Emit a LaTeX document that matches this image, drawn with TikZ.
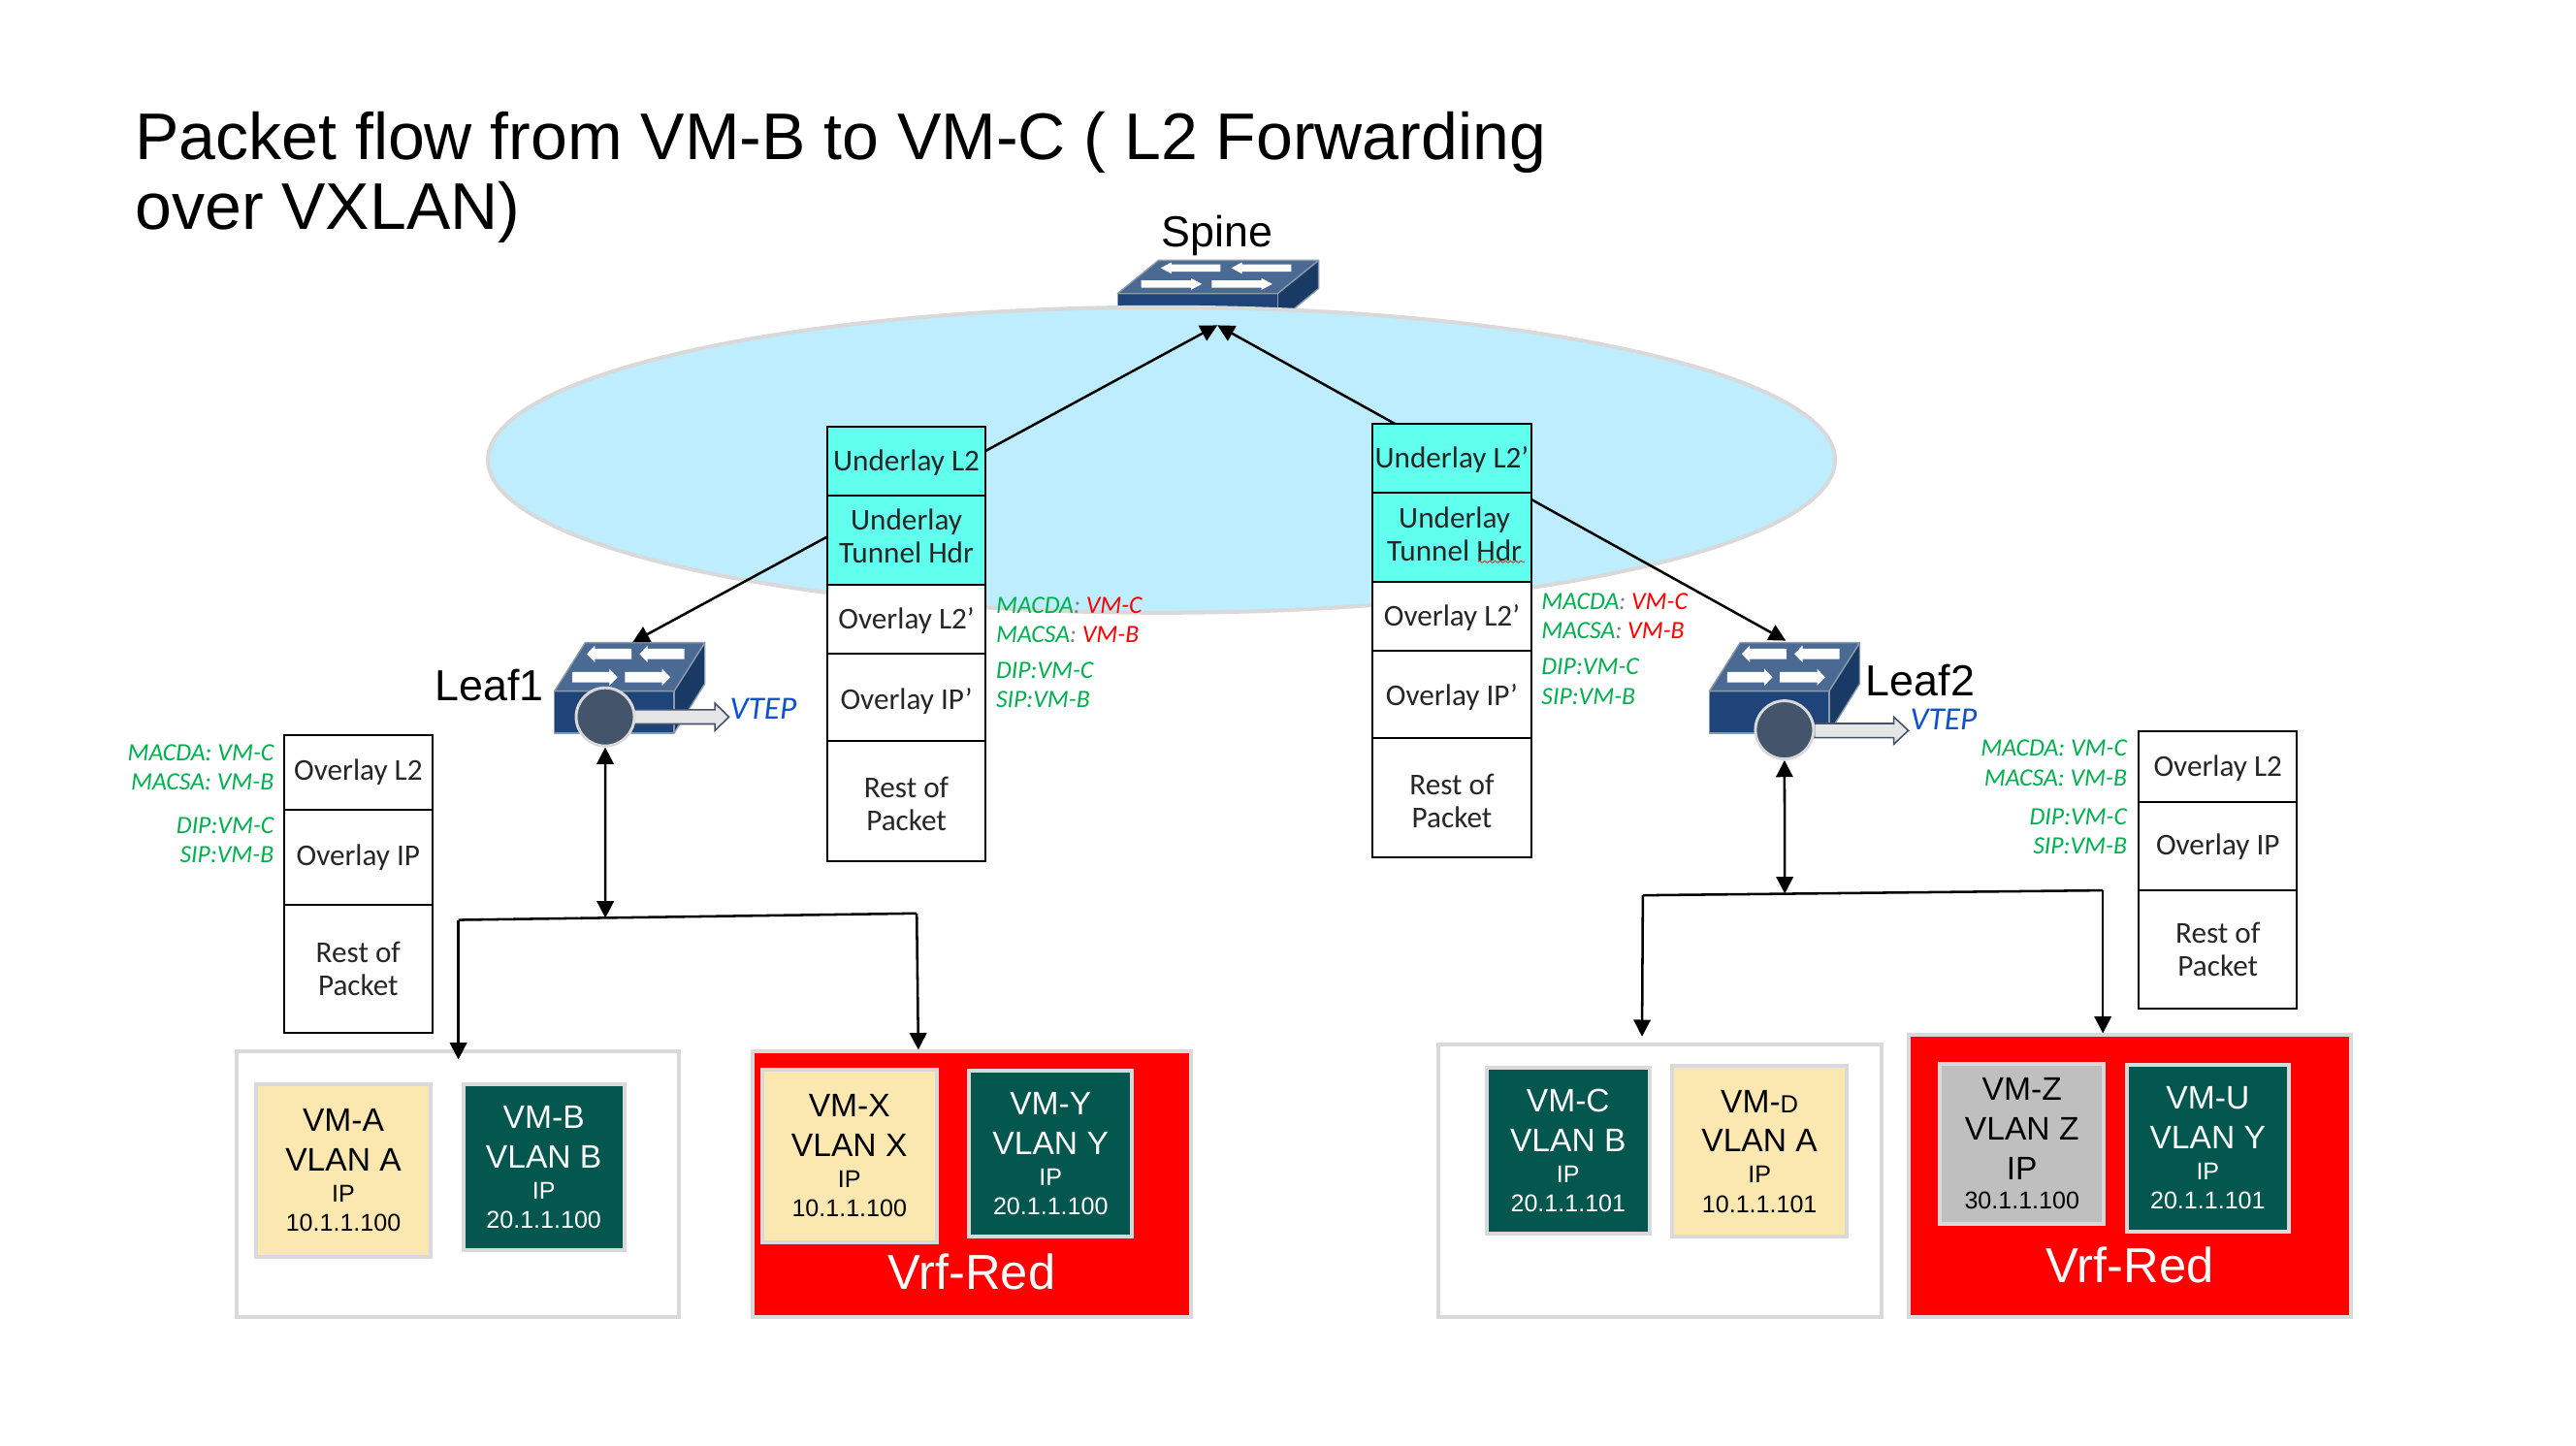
\documentclass[tikz,border=0pt]{standalone}
\usepackage{fontspec}
\setmainfont{Liberation Sans}
\newfontfamily\carl{Carlito}
\usetikzlibrary{arrows.meta,decorations.pathmorphing,shapes.geometric}
\definecolor{swtop}{HTML}{4A6A94}
\definecolor{swfront}{HTML}{1F4479}
\definecolor{swside}{HTML}{1A3A66}
\definecolor{swedge}{HTML}{8C9AAB}
\definecolor{cloud}{HTML}{BDEDFF}
\definecolor{lgrey}{HTML}{D9D9D9}
\definecolor{cyanbox}{HTML}{61FFEE}
\definecolor{sand}{HTML}{FBE8B0}
\definecolor{teal}{HTML}{04574F}
\definecolor{vmgrey}{HTML}{BFBFBF}
\definecolor{slate}{HTML}{44546A}
\definecolor{arrowfill}{HTML}{E7E6E6}
\definecolor{grn}{HTML}{00B050}
\definecolor{vblue}{HTML}{0F52CC}
\def\du{0.6353pt}
\tikzset{
  cellbox/.style={draw=black,line width=0.75pt,fill=white,inner sep=0pt,outer sep=0pt},
  hdrbox/.style={cellbox,fill=cyanbox},
  celltext/.style={align=center,inner sep=0pt,outer sep=0pt,text=black!85,font=\carl\fontsize{11.7}{12.7}\selectfont},
  link/.style={line width=0.95pt,draw=black},
  tip/.style={{Triangle[length=6.5pt,width=6.5pt]}-{Triangle[length=6.5pt,width=6.5pt]}},
  tipend/.style={-{Triangle[length=6.5pt,width=6.5pt]}},
  region/.style={draw=lgrey,line width=1.5pt,fill=white,inner sep=0pt},
  redregion/.style={region,fill=red},
  vmbox/.style={draw=lgrey,line width=1.5pt,align=center,inner sep=0pt},
  sandvm/.style={vmbox,fill=sand,text=black},
  tealvm/.style={vmbox,fill=teal,text=white},
  greyvm/.style={vmbox,fill=vmgrey,text=black},
  info/.style={inner sep=0pt,font=\carl\itshape\fontsize{9.65}{11}\selectfont,text=grn},
  infoL/.style={info,anchor=base west},
  infoR/.style={info,anchor=base east},
  swlabel/.style={inner sep=0pt,font=\fontsize{16.8}{19}\selectfont},
  vteplabel/.style={inner sep=0pt,anchor=base west,text=vblue,font=\carl\itshape\fontsize{12.5}{14}\selectfont},
  vrflabel/.style={inner sep=0pt,anchor=base,text=white,font=\fontsize{19}{21}\selectfont},
  vtepdot/.style={circle,fill=slate,draw=lgrey,line width=1.1pt,minimum size=35.4*\du,inner sep=0pt,outer sep=0.5pt},
  blockarrow/.style={fill=arrowfill,draw=slate,line width=0.6pt,line join=miter},
}
% \boxnode[style]{name}{x1}{y1}{x2}{y2}{text}
\newcommand{\boxnode}[7][]{%
  \node[#1,minimum width={(#5-#3)*0.6353pt},minimum height={(#6-#4)*0.6353pt}] (#2) at ({(#3+#5)/2},{(#4+#6)/2}) {#7};}
% \cellnode[style]{name}{x1}{y1}{x2}{y2}{text shift}{text}
\newcommand{\cellnode}[8][]{%
  \node[#1,minimum width={(#5-#3)*0.6353pt},minimum height={(#6-#4)*0.6353pt},
    label={[celltext,yshift=#7]center:{#8}}] (#2) at ({(#3+#5)/2},{(#4+#6)/2}) {};}
\newcommand{\bigf}{\fontsize{12.6}{15.2}\selectfont}
\newcommand{\ipf}{\fontsize{9.4}{12.6}\selectfont}
\newcommand{\numf}{\fontsize{9.4}{11.2}\selectfont}
\newcommand{\vmt}[4]{\bigf #1\\[3.2pt]\bigf #2\\\ipf #3\\[-0.6pt]\numf #4}
% switch in local units
\newcommand{\rarrowsw}[3]{\fill[white] (#1,#3-16) -- (#2-25,#3-16) -- (#2-25,#3-26) -- (#2,#3) -- (#2-25,#3+26) -- (#2-25,#3+16) -- (#1,#3+16) -- cycle;}
\newcommand{\larrowsw}[3]{\fill[white] (#2,#3-16) -- (#1+25,#3-16) -- (#1+25,#3-26) -- (#1,#3) -- (#1+25,#3+26) -- (#1+25,#3+16) -- (#2,#3+16) -- cycle;}
\newcommand{\switchicon}[4]{%
  \begin{scope}[shift={(#1,#2)},xscale=#3,yscale=#4,draw=swedge,line width=0.5pt,line join=round]
    \filldraw[fill=swside] (370,0) -- (465,-150) -- (465,-23) -- (370,130) -- cycle;
    \filldraw[fill=swfront] (0,0) -- (370,0) -- (370,130) -- (0,130) -- cycle;
    \filldraw[fill=swtop] (0,0) -- (370,0) -- (465,-150) -- (95,-150) -- cycle;
    \larrowsw{100}{238}{-115}\larrowsw{263}{402}{-115}
    \rarrowsw{55}{195}{-43}\rarrowsw{218}{358}{-43}
  \end{scope}}
\begin{document}
\begin{tikzpicture}[x=0.6353pt,y=-0.6353pt]
\useasboundingbox (0,0) rectangle (1568,880.2);
\fill[white] (0,0) rectangle (1568,880.2);
% title
\node[anchor=north west,inner sep=0pt,align=left,font=\fontsize{25.5}{27.3}\selectfont] (title) at (82,67.5)
  {Packet flow from VM-B to VM-C ( L2 Forwarding\\over VXLAN)};
% spine
\switchicon{680.2}{178.7}{0.2633}{0.1352}
\node[swlabel,anchor=base] (spinelbl) at (741,150.5) {Spine};
\node[draw=lgrey,line width=1.5pt,fill=cloud,ellipse,minimum width=820*\du,minimum height=186*\du,inner sep=0pt] (cloud) at (707,280) {};
\coordinate (spinetip) at (741,198);
% leaves
\switchicon{337.5}{420.7}{0.1968}{0.1968}
\switchicon{1040.5}{420.7}{0.1968}{0.1968}
\coordinate (leaf1top) at (385,391);
\coordinate (leaf2top) at (1087,390);
\node[swlabel,anchor=base west] (leaf1lbl) at (264.5,426.5) {Leaf1};
\node[swlabel,anchor=base west] (leaf2lbl) at (1135.5,423.5) {Leaf2};
% connectors under the packet stacks
\draw[link,tip] (spinetip) -- (leaf1top);
\draw[link,tip] (spinetip) -- (leaf2top);
% VTEP block arrows
\filldraw[blockarrow] (384,432.1) -- (435.2,432.1) -- (435.2,428.1) -- (443.7,436.4) -- (435.2,444.7) -- (435.2,440.7) -- (384,440.7) -- cycle;
\filldraw[blockarrow] (1104.3,440.4) -- (1152.7,440.4) -- (1152.7,436.4) -- (1161.6,444.7) -- (1152.7,453) -- (1152.7,449) -- (1104.3,449) -- cycle;
\node[vtepdot] (vtep1) at (368.4,436.4) {};
\node[vtepdot] (vtep2) at (1086.2,444.3) {};
\node[vteplabel] (vtep1lbl) at (444,438) {VTEP};
\node[vteplabel] (vtep2lbl) at (1162.5,444.3) {VTEP};
% center-left stack
\cellnode[hdrbox]{a1}{503.5}{260}{600}{301.5}{-0.5pt}{Underlay L2}
\cellnode[hdrbox]{a2}{503.5}{301.5}{600}{356}{1.6pt}{Underlay\\Tunnel Hdr}
\cellnode[cellbox]{a3}{503.5}{356}{600}{398}{-0.6pt}{Overlay L2’}
\cellnode[cellbox]{a4}{503.5}{398}{600}{451}{-1.3pt}{Overlay IP’}
\cellnode[cellbox]{a5}{503.5}{451}{600}{524}{-1.3pt}{Rest of\\Packet}
% center-right stack
\cellnode[hdrbox]{b1}{835.5}{258}{932}{300}{-0.7pt}{Underlay L2’}
\cellnode[hdrbox]{b2}{835.5}{300}{932}{354}{1.3pt,xshift=1pt}{Underlay\\Tunnel Hdr}
\cellnode[cellbox]{b3}{835.5}{354}{932}{396}{-0.7pt}{Overlay L2’}
\cellnode[cellbox]{b4}{835.5}{396}{932}{449}{-1.3pt}{Overlay IP’}
\cellnode[cellbox]{b5}{835.5}{449}{932}{522}{-1.2pt}{Rest of\\Packet}
\draw[red,line width=0.3pt,decorate,decoration={snake,amplitude=0.35pt,segment length=2pt}] (899.6,342) -- (927.9,342);
% left stack
\cellnode[cellbox]{c1}{172.8}{447.3}{263.3}{493}{0pt}{Overlay L2}
\cellnode[cellbox]{c2}{172.8}{493}{263.3}{551}{0pt}{Overlay IP}
\cellnode[cellbox]{c3}{172.8}{551}{263.3}{628.7}{0pt}{Rest of\\Packet}
% right stack
\cellnode[cellbox]{d1}{1302}{445}{1398}{488}{-0.6pt}{Overlay L2}
\cellnode[cellbox]{d2}{1302}{488}{1398}{542}{-0.4pt}{Overlay IP}
\cellnode[cellbox]{d3}{1302}{542}{1398}{614}{0pt}{Rest of\\Packet}
% header labels
\node[infoL] (i1) at (606,373.3) {MACDA\textcolor{gray}{:} \textcolor{red}{VM-C}};
\node[infoL] (i2) at (606,391) {MACSA\textcolor{gray}{:} \textcolor{red}{VM-B}};
\node[infoL] (i3) at (606,412.7) {DIP:VM-C};
\node[infoL] (i4) at (606,430.8) {SIP:VM-B};
\node[infoL] (j1) at (938,371.3) {MACDA\textcolor{gray}{:} \textcolor{red}{VM-C}};
\node[infoL] (j2) at (938,389) {MACSA\textcolor{gray}{:} \textcolor{red}{VM-B}};
\node[infoL] (j3) at (938,410.7) {DIP:VM-C};
\node[infoL] (j4) at (938,428.8) {SIP:VM-B};
\node[infoR] (k1) at (167,463) {MACDA: VM-C};
\node[infoR] (k2) at (167,481) {MACSA: VM-B};
\node[infoR] (k3) at (167,507.5) {DIP:VM-C};
\node[infoR] (k4) at (167,525) {SIP:VM-B};
\node[infoR] (l1) at (1295,460.3) {MACDA: VM-C};
\node[infoR] (l2) at (1295,478.3) {MACSA: VM-B};
\node[infoR] (l3) at (1295,502) {DIP:VM-C};
\node[infoR] (l4) at (1295,519.8) {SIP:VM-B};
% regions
\boxnode[region]{r1}{144}{640}{413}{802}{}
\boxnode[redregion]{r2}{458}{640}{725}{802}{}
\boxnode[region]{r3}{875.5}{636}{1145}{802}{}
\boxnode[redregion]{r4}{1162}{630}{1431}{802}{}
\node[vrflabel] (vrf1) at (591.5,785) {Vrf-Red};
\node[vrflabel] (vrf2) at (1296.5,780.5) {Vrf-Red};
% VMs
\boxnode[sandvm]{vma}{156}{660}{262}{765}{\vmt{VM-A}{VLAN A}{IP}{10.1.1.100}}
\boxnode[tealvm]{vmb}{282}{660}{380}{761}{\vmt{VM-B}{VLAN B}{IP}{20.1.1.100}}
\boxnode[sandvm]{vmx}{464}{651}{570}{756}{\vmt{VM-X}{VLAN X}{IP}{10.1.1.100}}
\boxnode[tealvm]{vmy}{590}{652}{689}{753}{\vmt{VM-Y}{VLAN Y}{IP}{20.1.1.100}}
\boxnode[tealvm]{vmc}{905}{650}{1004}{751}{\vmt{VM-C}{VLAN B}{IP}{20.1.1.101}}
\boxnode[sandvm]{vmd}{1018}{649}{1124}{753}{\vmt{VM-{\fontsize{9.6}{11}\selectfont D}}{VLAN A}{IP}{10.1.1.101}}
\boxnode[greyvm]{vmz}{1181}{647.4}{1280.5}{745}{\bigf VM-Z\\[3.2pt]\bigf VLAN Z\\[3.2pt]\bigf IP\\[-0.6pt]\numf 30.1.1.100}
\boxnode[tealvm]{vmu}{1294.7}{648}{1393}{749.7}{\vmt{VM-U}{VLAN Y}{IP}{20.1.1.101}}
% buses
\coordinate (busL) at (279,560);
\coordinate (busR) at (558,556);
\coordinate (busM) at (368.5,558.8);
\coordinate (busL2) at (1000,545);
\coordinate (busR2) at (1280,542);
\coordinate (busM2) at (1086.4,544);
\draw[link] (busL) -- (busR);
\draw[link] (busL2) -- (busR2);
\draw[link,tip] (vtep1.south) -- (busM);
\draw[link,tip] (vtep2.south) -- (busM2);
\coordinate (dropA) at (279,645);
\coordinate (dropB) at (559,639);
\coordinate (dropC) at (999.5,631);
\coordinate (dropD) at (1280,629);
\draw[link,tipend] (busL) -- (dropA);
\draw[link,tipend] (busR) -- (dropB);
\draw[link,tipend] (busL2) -- (dropC);
\draw[link,tipend] (busR2) -- (dropD);
\end{tikzpicture}
\end{document}
